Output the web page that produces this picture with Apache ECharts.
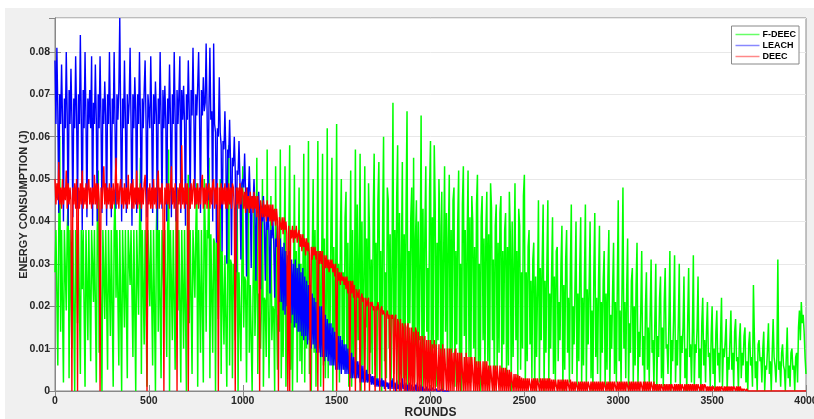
<!DOCTYPE html>
<html>
<head>
<meta charset="utf-8">
<script src="https://cdn.jsdelivr.net/npm/echarts@6/dist/echarts.min.js"></script>
<style>
  html, body { margin: 0; padding: 0; background: #fff; }
  #chart { width: 814px; height: 419px; }
</style>
</head>
<body>
<div id="chart"></div>
<script>
// values in 0.001 J, one value every 5 rounds (one row = 100 rounds)
var fdeec = [
  28,38,38,6,38,60,14,38,38,2,38,38,19,38,45,3,38,38,10,38,     // 0
  38,0,38,38,16,38,38,4,38,24,38,38,1,38,38,12,38,38,7,38,      // 100
  38,21,38,38,2,38,52,9,38,38,0,38,38,17,38,38,5,38,38,13,      // 200
  38,38,1,38,47,22,38,38,6,38,38,0,38,38,15,38,38,3,38,38,      // 300
  25,38,38,8,38,38,0,38,38,18,38,55,4,38,38,11,38,38,1,38,      // 400
  38,20,38,38,6,38,38,0,38,49,14,38,38,3,38,38,23,38,38,8,      // 500
  38,57,0,38,38,12,38,38,5,38,48,19,38,38,2,38,38,10,38,38,     // 600
  0,38,51,16,38,38,4,38,38,22,38,49,1,38,38,9,38,38,2,50,       // 700
  38,14,38,36,55,3,37,37,9,36,35,0,35,34,17,34,50,4,33,33,      // 800
  11,32,32,1,31,58,6,31,30,3,30,29,12,29,48,0,28,28,7,27,       // 900
  53,15,27,26,2,26,48,9,25,25,0,24,44,13,24,55,4,23,23,10,      // 1000
  22,50,1,22,21,8,57,21,3,20,46,12,20,19,0,53,19,5,18,14,       // 1100
  57,3,25,8,30,53,1,22,12,35,58,5,28,0,20,51,15,33,2,26,        // 1200
  48,7,30,4,24,56,2,35,10,27,59,4,22,0,31,50,9,38,1,25,         // 1300
  59,10,33,1,28,56,6,36,3,22,62,3,30,14,40,55,0,34,9,27,        // 1400
  63,9,30,2,37,50,11,28,5,41,47,5,35,1,29,52,1,38,8,24,         // 1500
  57,3,44,12,30,56,0,40,6,26,53,15,36,2,49,38,9,31,4,42,        // 1600
  56,6,35,2,45,54,11,33,0,39,60,7,28,3,48,45,10,37,1,29,        // 1700
  68,4,38,13,46,58,1,42,7,31,54,3,37,11,44,66,0,33,16,41,       // 1800
  48,5,55,2,36,45,8,40,12,30,65,0,43,6,38,53,14,29,2,47,        // 1900
  59,3,41,10,58,44,1,35,12,50,39,4,47,0,32,53,14,42,6,36,       // 2000
  51,2,38,9,45,48,1,33,11,40,52,5,30,0,44,53,13,38,3,35,        // 2100
  52,8,41,2,46,40,10,34,1,44,51,6,30,0,41,46,12,36,3,38,        // 2200
  47,7,37,2,49,43,12,31,0,39,44,5,35,9,42,46,1,33,11,38,        // 2300
  42,3,34,6,47,37,0,40,8,30,49,12,33,2,43,39,5,28,10,46,        // 2400
  51,1,28,7,34,38,11,26,3,31,35,0,27,8,24,45,2,29,12,31,        // 2500
  44,0,26,9,30,45,2,23,10,28,41,4,27,1,33,34,7,21,12,30,        // 2600
  39,0,25,5,31,38,9,22,2,29,44,4,20,11,26,40,1,23,7,29,         // 2700
  41,2,22,6,27,44,1,24,11,25,40,3,19,0,28,42,8,22,4,26,         // 2800
  39,2,21,9,26,33,1,23,5,27,38,0,18,10,24,35,4,21,2,25,         // 2900
  45,7,19,1,24,48,10,21,3,24,36,0,16,9,26,29,2,20,6,25,         // 3000
  35,1,14,8,19,33,6,13,0,20,28,5,15,2,18,31,9,12,1,17,          // 3100
  30,0,13,8,22,27,3,15,1,21,29,10,11,4,17,33,0,12,7,18,         // 3200
  32,2,12,6,16,30,1,13,9,15,27,3,10,0,17,29,8,11,2,14,          // 3300
  32,1,11,9,15,27,3,10,0,16,22,6,12,2,14,21,8,9,1,13,           // 3400
  20,4,10,0,14,19,6,9,2,13,22,1,10,8,12,17,0,8,5,12,            // 3500
  19,5,9,1,14,17,7,8,0,12,16,3,9,6,13,15,2,7,0,11,              // 3600
  14,6,8,1,25,13,3,7,0,11,12,7,8,2,10,14,0,6,5,10,              // 3700
  16,4,7,0,9,17,8,6,2,8,31,5,7,1,9,11,6,5,0,8,                  // 3800
  15,3,6,1,9,10,5,6,0,8,9,2,15,19,12,21,16,18,14,8,             // 3900
  4                                                             // 4000
];

var leach = [
  78,63,81,66,42,70,63,77,64,40,69,62,80,65,39,71,63,76,64,41,  // 0
  69,62,79,65,43,70,63,84,64,38,71,62,80,64,41,69,63,71,62,79,  // 100
  39,68,63,77,64,40,70,62,79,64,42,69,63,73,65,39,70,63,80,64,  // 200
  41,69,63,80,62,43,70,64,71,88,63,40,69,62,78,64,42,70,63,68,  // 300
  81,63,39,70,62,74,66,42,70,63,80,64,40,69,62,71,78,63,41,70,  // 400
  70,62,79,64,42,70,63,73,65,38,69,63,80,64,43,71,62,72,64,40,  // 500
  69,63,77,64,41,70,63,80,64,40,71,63,70,79,42,71,64,72,63,39,  // 600
  70,64,78,66,43,71,65,81,64,44,70,65,72,80,64,42,71,65,74,66,  // 700
  68,82,66,45,67,81,64,66,40,82,63,61,35,62,60,74,61,58,33,59,  // 800
  57,66,56,30,57,55,64,54,32,55,53,60,52,28,52,51,59,50,31,49,  // 900
  50,48,56,47,27,48,46,53,45,29,46,44,50,43,26,43,42,47,41,24,  // 1000
  42,40,46,39,26,40,38,43,37,23,38,36,41,35,22,36,34,39,33,21,  // 1100
  36,21,34,19,35,18,33,20,32,17,33,16,31,18,30,15,31,16,29,14,  // 1200
  30,14,28,13,29,12,27,13,26,11,25,12,24,10,23,11,22,10,21,9,   // 1300
  21,9,20,8,20,8,19,7,18,8,17,7,16,6,16,6,15,6,14,5,            // 1400
  14,5,13,5,13,4,12,5,11,4,11,4,10,4,9,3,9,3,8,3,               // 1500
  8,3,7,3,7,2,6,2,6,2,5,2,5,2,4,2,4,1.5,3.5,1.5,                // 1600
  3.5,1,3,1,3,1,2.5,1,3,1,2.5,0.5,2.5,1,2,0.5,2,0.5,2.5,0.5,    // 1700
  3,0.5,2,0,2.5,0.5,1.5,0,2,0,3,0.5,1.5,0,2,0,1.5,0,2,0,        // 1800
  1.5,0,1,0,1.5,0,2,0,1,0,1.5,0,1,0,0.5,0,1,0,0.5,0,            // 1900
  0,0,0.8,0,0,0,0.5,0,0,0,0,0,0.5,0,0,0,0,0,0,0,                // 2000
  0                                                             // 2100
];

var deec = [
  50,44,49,45,54,44,48,43,50,44,48,45,52,43,49,44,48,45,0,48,   // 0
  44,49,43,50,0,48,43,49,44,52,43,48,44,49,43,48,50,44,48,43,   // 100
  48,44,51,44,49,43,49,45,0,48,43,48,53,44,49,43,48,44,49,43,   // 200
  48,43,49,44,48,55,44,49,43,48,50,44,48,43,49,44,48,43,51,44,  // 300
  44,49,43,50,43,48,44,52,43,48,44,49,43,48,44,49,51,44,0,48,   // 400
  44,49,43,48,43,50,44,48,43,49,52,43,48,44,49,43,0,48,44,49,   // 500
  44,49,43,48,53,44,48,43,49,44,0,48,44,49,43,58,44,48,43,49,   // 600
  44,49,0,48,43,49,44,48,50,43,48,44,49,43,48,44,49,51,43,48,   // 700
  44,49,43,48,49,43,48,44,49,50,43,48,44,49,0,48,43,49,44,48,   // 800
  44,49,43,48,43,49,44,48,43,49,48,43,0,48,44,48,43,49,44,48,   // 900
  47,43,47,42,48,43,46,42,47,43,46,42,47,43,46,41,46,42,0,45,   // 1000
  45,41,45,41,44,40,45,41,44,40,44,39,44,40,43,39,43,40,0,41,   // 1100
  41,38,41,37,41,38,40,37,0,39,0,38,36,39,35,38,36,39,35,37,    // 1200
  38,34,37,33,37,34,36,32,36,33,35,32,0,34,31,34,32,34,31,33,   // 1300
  0,33,30,33,30,33,0,32,29,32,29,31,28,31,29,31,28,30,27,30,    // 1400
  0,29,26,28,25,28,26,27,25,27,24,27,23,26,0,26,23,26,22,25,    // 1500
  0,24,23,22,24,0,22,23,21,22,0,22,20,21,22,0,21,20,21,19,      // 1600
  20,0,20,19,21,19,0,19,20,18,19,18,0,18,19,17,18,0,18,17,      // 1700
  18,0,17,18,0,17,16,0,17,0,16,15,0,16,0,15,16,0,15,0,          // 1800
  15,0,14,0,15,14,0,14,0,13,0,13,12,0,13,0,12,0,12,0,           // 1900
  12,0,11,0,12,0,11,11,0,11,0,10,0,11,0,10,10,0,10,0,           // 2000
  10,0,10,0,9,0,9,10,0,9,0,9,0,9,9,0,8,0,9,0,                   // 2100
  8,0,8,0,8,8,0,8,0,7,0,7,0,7,7,0,7,0,7,0,                      // 2200
  7,0,6,0,6,6,0,6,0,6,0,6,6,0,6,0,5.5,0,5.5,0,                  // 2300
  5.5,0,5,0,5,0,4.5,4.5,0,4,0,4,0,3.8,0,3.5,0,3.2,0,3,          // 2400
  0,3,0,3,0,3,3,0,3,0,3,0,3,0,3,3,0,3,0,3,                      // 2500
  0,3,0,3,0,3,0,3,0,2.7,0,2.7,0,2.7,2.7,0,2.7,0,2.7,0,          // 2600
  2.7,0,2.7,0,2.7,0,2.7,2.7,0,2.7,0,2.2,0,2.2,0,2.2,2.2,0,2.2,0,// 2700
  2.2,0,2.2,0,2.2,0,2.2,0,2.2,2.2,0,2.2,0,2.2,0,2.2,0,2.2,0,2.2,// 2800
  0,2.2,0,2.2,0,2.2,2.2,0,2.2,0,2.2,0,2.2,0,2.2,0,2.2,2.2,0,2.2,// 2900
  0,2.2,0,2.2,0,2.2,0,2.2,0,2.2,2.2,0,2.2,0,2.2,0,2.2,0,2.2,0,  // 3000
  2.2,0,2.2,0,2.2,2.2,0,2.2,0,2.2,0,2.2,0,2.2,0,2.2,2.2,0,2.2,0,// 3100
  1.6,0,1.6,0,1.6,0,1.6,1.6,0,1.6,0,1.6,0,1.6,0,1.6,0,1.6,1.6,0,// 3200
  1.6,0,1.6,0,1.6,0,1.6,0,1.6,1.6,0,1.6,0,1.6,0,1.6,0,1.6,0,1.6,// 3300
  0,1.6,0,1.6,0,1.6,1.6,0,1.6,0,1.6,0,1.6,1.1,0,1.1,0,1.1,0,1.1,// 3400
  0,1.1,1.1,0,1.1,0,1.1,0,1.1,0,1.1,1.1,0,1.1,0,1.1,0,1.1,0,1.1,// 3500
  0,1.1,0,1.1,1.1,0,1.1,0,1.1,0,1.1,0,0.5,0,0.5,0.5,0,0.5,0,0.3,// 3600
  0,0,0,0,0,0,0,0,0,0,0,0,0,0,0,0,0,0,0,0,                      // 3700
  0,0,0,0,0,0,0,0,0,0,0,0,0,0,0,0,0,0,0,0,                      // 3800
  0,0,0,0,0,0,0,0,0,0,0,0,0,0,0,0,0,0,0,0,                      // 3900
  0                                                             // 4000
];

var xTicks = [0, 500, 1000, 1500, 2000, 2500, 3000, 3500, 4000];
var yTicks = [0, 0.01, 0.02, 0.03, 0.04, 0.05, 0.06, 0.07, 0.08];
var step = 5;

function pairs(arr) {
    var out = [];
    for (var i = 0; i < arr.length; i++) {
        out.push([i * step, arr[i] / 1000]);
    }
    return out;
}

var fontName = 'Liberation Sans, Arial, sans-serif';
var labelFont = {
    color: '#262626',
    fontSize: 10.5,
    fontWeight: 'bold',
    fontFamily: fontName
};
var lineGray = '#888';

var myChart = echarts.init(document.getElementById('chart'));
var option = {
    animation: false,
    backgroundColor: '#fff',
    graphic: [{
        type: 'rect',
        z: -10,
        shape: { x: 5, y: 8, width: 809, height: 411 },
        style: { fill: '#f0f0f0' }
    }],
    grid: {
        left: 55,
        right: 8,
        top: 18,
        bottom: 28,
        containLabel: false,
        outerBoundsMode: 'none',
        show: true,
        backgroundColor: '#fff',
        borderColor: lineGray,
        borderWidth: 1
    },
    legend: {
        data: [
            { name: 'F-DEEC', itemStyle: { color: '#66ff66' } },
            { name: 'LEACH', itemStyle: { color: '#8888ff' } },
            { name: 'DEEC', itemStyle: { color: '#ff8888' } }
        ],
        orient: 'vertical',
        right: 15,
        top: 26,
        padding: [3, 3, 2, 4],
        itemGap: 0,
        itemWidth: 24,
        itemHeight: 1.5,
        icon: 'rect',
        backgroundColor: '#fff',
        borderColor: lineGray,
        borderWidth: 1,
        textStyle: {
            color: '#000',
            fontSize: 9,
            fontWeight: 'bold',
            fontFamily: fontName,
            lineHeight: 11,
            padding: [0, 0, 0, -2]
        }
    },
    xAxis: [
        {
            type: 'value',
            min: xTicks[0],
            max: xTicks[xTicks.length - 1],
            interval: 500,
            name: 'ROUNDS',
            nameLocation: 'middle',
            nameGap: 16,
            nameMoveOverlap: false,
            nameTextStyle: {
                color: '#262626',
                fontSize: 12,
                fontWeight: 'bold',
                fontFamily: fontName,
                verticalAlign: 'top'
            },
            axisLine: { lineStyle: { color: lineGray } },
            axisTick: { inside: true, length: 6, lineStyle: { color: lineGray } },
            axisLabel: Object.assign({
                margin: 5,
                formatter: function (v) { return String(v); }
            }, labelFont),
            splitLine: { show: false }
        },
        {
            type: 'value',
            position: 'top',
            min: 0,
            max: 4000,
            interval: 500,
            axisLine: { lineStyle: { color: lineGray } },
            axisTick: { inside: true, length: 6, lineStyle: { color: lineGray } },
            axisLabel: { show: false },
            splitLine: { show: false }
        }
    ],
    yAxis: [
        {
            type: 'value',
            min: yTicks[0],
            max: 0.088,
            interval: 0.01,
            name: 'ENERGY CONSUMPTION (J)',
            nameLocation: 'middle',
            nameGap: 26,
            nameMoveOverlap: false,
            nameTextStyle: {
                color: '#262626',
                fontSize: 11,
                fontWeight: 'bold',
                fontFamily: fontName,
                verticalAlign: 'bottom'
            },
            axisLine: { show: true, lineStyle: { color: lineGray } },
            axisTick: { show: true, inside: true, length: 6, lineStyle: { color: lineGray } },
            axisLabel: Object.assign({
                margin: 5,
                showMaxLabel: false,
                formatter: function (v) { return v === 0 ? '0' : v.toFixed(2); }
            }, labelFont),
            splitLine: { show: true, lineStyle: { color: '#e8e8e8' } }
        },
        {
            type: 'value',
            position: 'right',
            min: 0,
            max: 0.088,
            interval: 0.01,
            axisLine: { show: true, lineStyle: { color: lineGray } },
            axisTick: { show: true, inside: true, length: 6, lineStyle: { color: lineGray } },
            axisLabel: { show: false },
            splitLine: { show: false }
        }
    ],
    series: [
        {
            name: 'F-DEEC',
            type: 'line',
            z: 2,
            showSymbol: false,
            color: '#00ff00',
            lineStyle: { width: 1.5, color: '#00ff00' },
            data: pairs(fdeec)
        },
        {
            name: 'LEACH',
            type: 'line',
            z: 3,
            showSymbol: false,
            color: '#0000ff',
            lineStyle: { width: 1.4, color: '#0000ff' },
            data: pairs(leach)
        },
        {
            name: 'DEEC',
            type: 'line',
            z: 4,
            showSymbol: false,
            color: '#ff0000',
            lineStyle: { width: 1.4, color: '#ff0000' },
            data: pairs(deec)
        }
    ]
};
myChart.setOption(option);
</script>
</body>
</html>
